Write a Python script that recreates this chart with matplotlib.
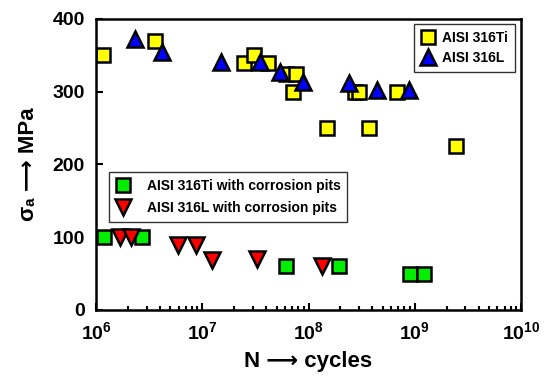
import matplotlib
matplotlib.use("Agg")
import matplotlib.pyplot as plt
from matplotlib.ticker import LogLocator, NullFormatter, FixedLocator

plt.rcParams['font.family'] = ['Liberation Sans', 'DejaVu Sans']
plt.rcParams['font.weight'] = 'bold'
plt.rcParams['mathtext.fontset'] = 'custom'
plt.rcParams['mathtext.rm'] = 'Liberation Sans:bold'
plt.rcParams['mathtext.bf'] = 'Liberation Sans:bold'
plt.rcParams['mathtext.it'] = 'Liberation Sans:bold'

# AISI 316Ti
ti_n = [1.17e6, 3.6e6, 2.47e7, 3.1e7, 4.2e7, 6.2e7, 7.7e7, 7.2e7, 2.75e8, 3.0e8, 6.8e8, 1.48e8, 3.74e8, 2.45e9]
ti_s = [350, 370, 340, 350, 340, 325, 325, 300, 300, 300, 300, 250, 250, 225]

# AISI 316L
l_n = [2.33e6, 4.2e6, 1.5e7, 3.5e7, 5.4e7, 8.9e7, 2.4e8, 4.4e8, 8.8e8]
l_s = [372, 355, 341, 341, 327, 314, 312, 302, 302]

# AISI 316Ti with corrosion pits
tip_n = [1.19e6, 2.73e6, 6.1e7, 1.94e8, 9.0e8, 1.22e9]
tip_s = [100, 100, 60, 60, 50, 50]

# AISI 316L with corrosion pits
lp_n = [1.7e6, 2.12e6, 5.95e6, 8.7e6, 1.23e7, 3.3e7, 1.35e8]
lp_s = [100, 100, 90, 90, 69, 70, 60]

fig = plt.figure(figsize=(5.47, 3.81), dpi=100)
ax = fig.add_axes([0.1755, 0.1864, 0.777, 0.7638])

ms = 9.5
mew = 1.8
h1, = ax.plot(ti_n, ti_s, 's', ms=ms, mfc='#ffff00', mec='black', mew=mew, ls='none', label='AISI 316Ti')
h2, = ax.plot(l_n, l_s, '^', ms=ms + 1.5, mfc='#0000ff', mec='black', mew=mew, ls='none', label='AISI 316L')
h3, = ax.plot(tip_n, tip_s, 's', ms=ms, mfc='#00ee00', mec='black', mew=mew, ls='none', label='AISI 316Ti with corrosion pits')
h4, = ax.plot(lp_n, lp_s, 'v', ms=ms + 1.5, mfc='#ff0000', mec='black', mew=mew, ls='none', label='AISI 316L with corrosion pits')

ax.set_xscale('log')
ax.set_xlim(1e6, 1e10)
ax.set_ylim(0, 400)
ax.xaxis.set_major_locator(FixedLocator([1e6, 1e7, 1e8, 1e9, 1e10]))
ax.set_xticklabels([r'$\mathbf{10^{%d}}$' % e for e in range(6, 11)])
ax.xaxis.set_minor_locator(LogLocator(base=10, subs=range(2, 10)))
ax.xaxis.set_minor_formatter(NullFormatter())
ax.set_yticks([0, 100, 200, 300, 400])

ax.tick_params(which='both', direction='in', top=False, right=False, labelsize=14, width=1.5)
ax.tick_params(which='major', length=5, pad=8)
ax.tick_params(which='minor', length=3)
for lab in ax.get_yticklabels():
    lab.set_fontweight('bold')
for sp in ax.spines.values():
    sp.set_linewidth(1.8)

ax.set_xlabel('N \u27f6 cycles', fontsize=16, fontweight='bold', labelpad=6)
ax.set_ylabel('\u03c3\u2090 \u27f6 MPa', fontsize=16, fontweight='bold', labelpad=10)

leg1 = ax.legend(handles=[h1, h2], loc='upper right', fontsize=10, frameon=True, fancybox=False,
                 edgecolor='black', handlelength=1.0, handletextpad=0.5, borderpad=0.5,
                 labelspacing=0.45, borderaxespad=0, bbox_to_anchor=(0.986, 0.983))
leg1.get_frame().set_linewidth(1.0)
ax.add_artist(leg1)
leg2 = ax.legend(handles=[h3, h4], loc='lower left', fontsize=10, frameon=True, fancybox=False,
                 edgecolor='black', handlelength=1.0, handletextpad=1.2, borderpad=0.5,
                 labelspacing=0.6, borderaxespad=0, bbox_to_anchor=(0.031, 0.302))
leg2.get_frame().set_linewidth(1.0)

fig.savefig('out.png', dpi=100)
